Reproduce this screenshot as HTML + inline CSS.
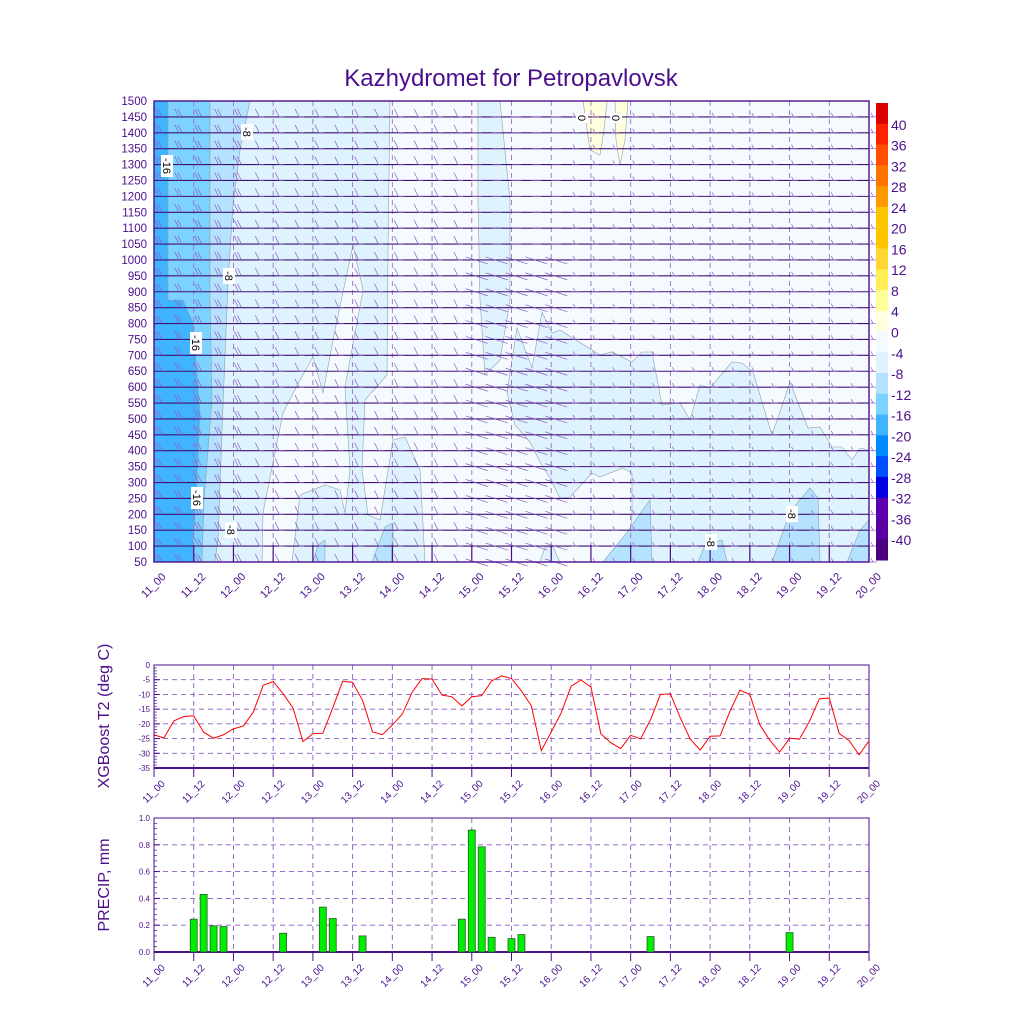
<!DOCTYPE html>
<html><head><meta charset="utf-8">
<style>
html,body{margin:0;padding:0;background:#fff;}
svg{display:block;font-family:"Liberation Sans",sans-serif;}
</style></head>
<body>
<svg id="svg" width="1024" height="1024" viewBox="0 0 1024 1024">
<text x="511" y="86" text-anchor="middle" font-size="24" fill="#4b0e8c">Kazhydromet for Petropavlovsk</text>
<g id="contour"></g>
<g id="cbar"></g>
<g id="tplot"></g>
<g id="pplot"></g>
<text transform="translate(109,716) rotate(-90)" text-anchor="middle" font-size="16" fill="#4b0e8c">XGBoost T2 (deg C)</text>
<text transform="translate(109,885) rotate(-90)" text-anchor="middle" font-size="16" fill="#4b0e8c">PRECIP, mm</text>
</svg>
<script>
// ---- data ----
const timeLabels = ["11_00","11_12","12_00","12_12","13_00","13_12","14_00","14_12","15_00","15_12","16_00","16_12","17_00","17_12","18_00","18_12","19_00","19_12","20_00"];
const t2Values = [-23.7,-24.8,-19,-17.5,-17.3,-22.8,-24.9,-23.7,-21.7,-20.7,-16,-6.9,-5.6,-9.8,-14.6,-26,-23.3,-23.2,-14.6,-5.5,-5.9,-12,-22.7,-23.7,-20.4,-16.7,-9.2,-4.6,-4.8,-10.2,-10.8,-13.9,-10.8,-10.4,-5.4,-3.7,-4.6,-8.8,-13.9,-29.1,-22.8,-16.3,-7.2,-5.1,-7.5,-23.4,-26.4,-28.4,-23.9,-25.1,-18.6,-10,-9.8,-18,-25.2,-28.9,-24.2,-24.1,-15.7,-8.6,-10,-20.3,-25.5,-29.6,-24.9,-25.2,-19.2,-11.5,-11.2,-23.3,-25.7,-30.5,-25.8];
const precipIndex = [4,5,6,7,13,17,18,21,31,32,33,34,36,37,50,64];
const precipValues = [0.245,0.43,0.195,0.19,0.14,0.335,0.25,0.12,0.245,0.91,0.785,0.11,0.10,0.13,0.115,0.145];
const levels = [50,100,150,200,250,300,350,400,450,500,550,600,650,700,750,800,850,900,950,1000,1050,1100,1150,1200,1250,1300,1350,1400,1450,1500];
const t2Ticks = [0,-5,-10,-15,-20,-25,-30,-35];
const precipTicks = [0,0.2,0.4,0.6,0.8,1.0];
const cbarLabels = [40,36,32,28,24,20,16,12,8,4,0,-4,-8,-12,-16,-20,-24,-28,-32,-36,-40];
const cbarColors = ["#dd0000","#ff2200","#ff4f00","#ff7300","#ff9900","#ffc400","#ffc400","#ffd633","#ffee55","#ffff99","#ffffdd","#f5faff","#dff3ff","#b5e2ff","#7dd3ff","#40b4ff","#008cff","#0050ff","#0000e0","#5a00b0","#5a00a0","#4a0080"];

const NS="http://www.w3.org/2000/svg";
const PUR="#4b0e8c";
function mk(tag,attrs,parent){const e=document.createElementNS(NS,tag);for(const k in attrs)e.setAttribute(k,attrs[k]);parent.appendChild(e);return e;}
const X0=154,X1=869,NT=t2Values.length;
const xIdx=i=>X0+i*(X1-X0)/(NT-1);
const xLab=j=>X0+j*(X1-X0)/(timeLabels.length-1);

// ---- contour panel ----
const C=document.getElementById('contour');
const yLev=v=>562-(v-50)/(1450)*461;
const polys=[
 ["#f5faff","154,101 869,101 869,562 154,562"],
 ["#dff3ff","154,101 390,101 388,250 387,375 365,400 362,470 368,515 380,520 393,440 405,437 420,470 425,562 154,562"],
 ["#f5faff","353,245 363,290 345,387 350,470 345,513 340,490 325,485 300,495 292,562 262,562 263,513 283,413 300,380 313,357 323,393 335,330"],
 ["#dff3ff","478,101 500,101 510,200 510,300 500,360 485,375 480,300 478,200"],
 ["#dff3ff","507,392 517,328 532,368 542,312 552,333 560,330 600,355 612,352 632,362 642,352 652,352 662,405 680,403 690,420 700,385 710,388 732,362 742,363 753,372 772,435 790,382 808,428 820,427 832,447 842,447 852,460 860,448 869,450 869,562 600,562 627,562 632,515 632,473 623,468 600,477 592,473 570,497 560,498 550,478 540,462 530,442 515,425"],
 ["#dff3ff","540,562 545,547 553,547 560,562"],
 ["#b5e2ff","603,562 625,535 650,500 652,562"],
 ["#b5e2ff","698,562 705,545 722,540 727,562"],
 ["#b5e2ff","772,562 790,512 810,488 818,498 820,562"],
 ["#b5e2ff","847,562 860,530 869,520 869,562"],
 ["#b5e2ff","372,562 385,527 393,523 393,562"],
 ["#b5e2ff","313,562 318,545 325,540 325,562"],
 ["#ffffdd","583,101 607,101 604,130 600,155 590,150"],
 ["#ffffdd","615,101 628,101 625,140 620,165 616,140"],
 ["#b5e2ff","154,101 250,101 240,150 233,205 228,282 222,430 218,540 215,562 154,562"],
 ["#7dd3ff","154,101 210,101 210,300 212,400 204,500 202,562 154,562"],
 ["#40b4ff","154,101 168,101 168,300 183,300 193,323 200,413 197,480 193,547 195,562 154,562"]
];
polys.forEach((p,i)=>{
 const e=mk('polygon',{points:p[1],fill:p[0],stroke:"#8fa0aa","stroke-width":0.6},C);
 
 
});
// vertical dashed grid
timeLabels.forEach((l,j)=>{
 const x=xLab(j);
 const e=mk('line',{x1:x,y1:101,x2:x,y2:562,stroke:"#9a70c8","stroke-width":0.9,"stroke-dasharray":"5,4"},C);
 
 
 const t=mk('line',{x1:x,y1:545,x2:x,y2:562,stroke:PUR,"stroke-width":1.2},C);
 
 
 const tx=mk('text',{transform:`translate(${x+2},${588}) rotate(-45)`,"text-anchor":"middle","font-size":11,fill:PUR},C);
 tx.textContent=l;
 
 
});
// level lines & labels & barbs
levels.forEach(v=>{
 const y=yLev(v);
 const e=mk('line',{x1:X0,y1:y,x2:X1,y2:y,stroke:"#3e1070","stroke-width":1.1},C);
 
 
 const t=mk('text',{x:147,y:y+4,"text-anchor":"end","font-size":11.5,fill:PUR},C);
 t.textContent=v;
 
 
 if(v===1500) return;
 let d="";
 for(let i=0;i<NT;i+=2){
  const x=xIdx(i)+4;
  if(x<250){d+=`M${x-3},${y-8}L${x+1},${y} M${x},${y-8}L${x+4},${y} `;}
  else if(x<470){d+=`M${x-2},${y-8}L${x+2},${y} M${x+2},${y}L${x+7},${y} `;}
  else if(x<570){ if(v<=1000) d+=`M${x-10},${y-3}L${x+12},${y+4} `; else d+=`M${x-4},${y}L${x+6},${y} `;}
  else {d+=`M${x-3},${y}L${x+4},${y} M${x},${y}L${x-2},${y-4} `;}
 }
 const b=mk('path',{d:d,stroke:"#8c5cc4","stroke-width":0.7,fill:"none"},C);
 
 
});
// contour labels
[[167,166,"-16"],[196,343,"-16"],[197,498,"-16"],[247,132,"-8"],[229,276,"-8"],[231,530,"-8"],[711,542,"-8"],[792,514,"-8"],[582,118,"0"],[616,118,"0"]].forEach(c=>{
 const g=mk('g',{transform:`translate(${c[0]},${c[1]}) rotate(90)`},C);
 
 
 const w=c[2].length*6+4;
 mk('rect',{x:-w/2,y:-6,width:w,height:12,fill:"#fff"},g);
 const t=mk('text',{x:0,y:4,"text-anchor":"middle","font-size":11,fill:"#000"},g);
 t.textContent=c[2];
});
mk('rect',{x:X0,y:101,width:X1-X0,height:461,fill:"none",stroke:PUR,"stroke-width":1.4},C);

// ---- colorbar ----
const CB=document.getElementById('cbar');
const bh=(560-103)/cbarColors.length;
cbarColors.forEach((c,i)=>{
 const r=mk('rect',{x:876,y:103+i*bh,width:12,height:bh+0.5,fill:c},CB);
 
 
});
cbarLabels.forEach((l,i)=>{
 const t=mk('text',{x:891,y:103+(i+1)*bh+6,"font-size":14,fill:PUR},CB);
 t.textContent=l;
 
 
});

// ---- generic axis panel ----
function panel(G,y0,y1,ticks,vmin,vmax,fmt,minor){
 const ys=v=>y1-(v-vmin)/(vmax-vmin)*(y1-y0);
 ticks.forEach(v=>{
  const y=ys(v);
  const g=mk('line',{x1:X0,y1:y,x2:X1,y2:y,stroke:"#8a5cc0","stroke-width":0.9,"stroke-dasharray":"5,4"},G);
  
  
  const tk=mk('line',{x1:X0,y1:y,x2:X0+6,y2:y,stroke:PUR,"stroke-width":1},G);
  
  
  const t=mk('text',{x:X0-4,y:y+3,"text-anchor":"end","font-size":8,fill:PUR},G);
  t.textContent=fmt(v);
  
  
 });
 for(let k=0;k<=minor;k++){
  const y=y0+k*(y1-y0)/minor;
  mk('line',{x1:X0,y1:y,x2:X0+3,y2:y,stroke:PUR,"stroke-width":0.7},G);
 }
 timeLabels.forEach((l,j)=>{
  const x=xLab(j);
  const g=mk('line',{x1:x,y1:y0,x2:x,y2:y1,stroke:"#8a5cc0","stroke-width":0.9,"stroke-dasharray":"5,4"},G);
  
  
  const tk=mk('line',{x1:x,y1:y1,x2:x,y2:y1+9,stroke:PUR,"stroke-width":1},G);
  
  
  const t=mk('text',{transform:`translate(${x+2},${y1+26}) rotate(-45)`,"text-anchor":"middle","font-size":10,fill:PUR},G);
  t.textContent=l;
  
  
 });
 mk('rect',{x:X0,y:y0,width:X1-X0,height:y1-y0,fill:"none",stroke:PUR,"stroke-width":1},G);
 mk('line',{x1:X0,y1:y1,x2:X1,y2:y1,stroke:PUR,"stroke-width":2},G);
 return ys;
}
// ---- T2 ----
const TG=document.getElementById('tplot');
const ty=panel(TG,665,768,t2Ticks,-35,0,v=>v,35);
const tl=mk('polyline',{points:t2Values.map((v,i)=>xIdx(i)+","+ty(v)).join(" "),fill:"none",stroke:"#ff0000","stroke-width":1},TG);


// ---- precip ----
const PG=document.getElementById('pplot');
const py=panel(PG,818,952,precipTicks,0,1,v=>v.toFixed(1),25);
precipValues.forEach((v,k)=>{
 const x=xIdx(precipIndex[k]);
 const r=mk('rect',{x:x-3.5,y:py(v),width:7,height:py(0)-py(v),fill:"#00ee00",stroke:"#2a5a2a","stroke-width":0.8},PG);
 
 
});
</script>
</body></html>
